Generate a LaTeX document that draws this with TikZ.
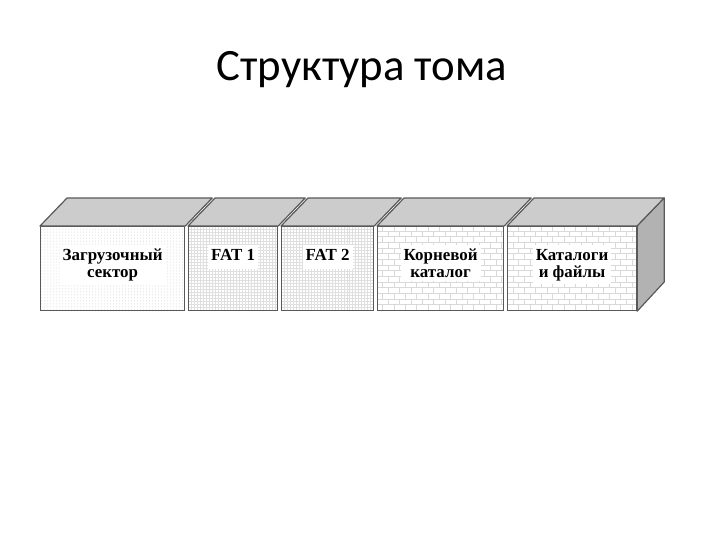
\documentclass[tikz,border=0pt]{standalone}
\usepackage{fontspec}
\setmainfont{Liberation Serif}
\newfontfamily\titlefont{Carlito}
\usetikzlibrary{positioning,patterns,calc}

\begin{document}
\begin{tikzpicture}[
  x=1bp, y=-1bp,
  face/.style={draw=gray!70!black, line width=1.2pt, anchor=north west, inner sep=0pt,
    minimum height=84bp},
  label/.style={fill=white, inner sep=3pt, anchor=north, align=center,
    font=\fontsize{17}{17.5}\selectfont\bfseries},
  roof/.style={draw=gray!70!black, line width=1.2pt, fill=gray!40, line join=round},
  wall/.style={draw=gray!70!black, line width=1.2pt, fill=gray!60, line join=round}
]
\useasboundingbox (0,0) rectangle (720,540);
\node[font=\titlefont\fontsize{45}{48}\selectfont, anchor=base] (title) at (362,81) {Структура тома};

% front faces
\node[face, minimum width=144bp, pattern=dots, pattern color=gray!35] (boot) at (40,226) {};
\node[face, minimum width=89bp, pattern=grid, pattern color=gray!25] (fat1) at (188,226) {};
\node[face, minimum width=92bp, pattern=grid, pattern color=gray!25] (fat2) at (281,226) {};
\node[face, minimum width=126bp, pattern=bricks, pattern color=gray!30] (root) at (377,226) {};
\node[face, minimum width=129bp, pattern=bricks, pattern color=gray!30] (files) at (507,226) {};

% tops and side
\foreach \b in {boot,fat1,fat2,root,files}
  \draw[roof] (\b.north west) -- ++(27,-28) -- ($(\b.north east)+(27,-28)$) -- (\b.north east) -- cycle;
\draw[wall] (files.north east) -- ++(27,-28) -- ++(0,84) -- (files.south east) -- cycle;

% labels
\foreach \b/\t in {boot/{Загрузочный\\сектор}, fat1/{FAT 1}, fat2/{FAT 2},
                   root/{Корневой\\каталог}, files/{Каталоги\\и файлы}}
  \node[label] at ($(\b.north)+(0,19)$) {\strut\t};
\end{tikzpicture}
\end{document}
